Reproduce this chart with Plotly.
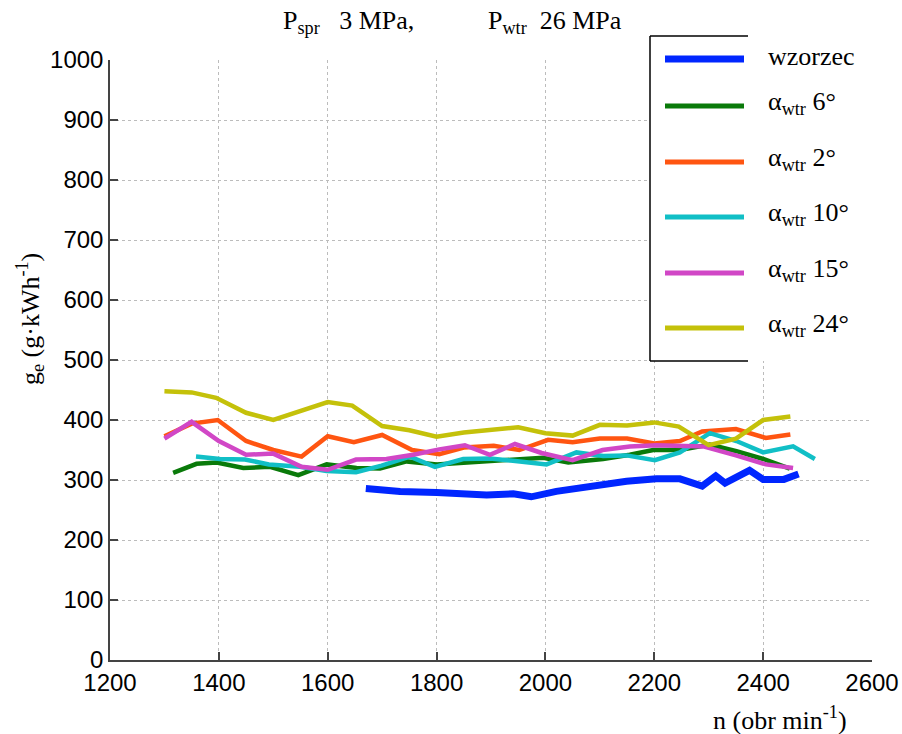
import plotly.graph_objects as go

# ---------------- data ----------------
series_names = ["wzorzec", "α<sub>wtr</sub> 6°", "α<sub>wtr</sub> 2°",
                "α<sub>wtr</sub> 10°", "α<sub>wtr</sub> 15°", "α<sub>wtr</sub> 24°"]
series_colors = ["#0026FF", "#0A7A0A", "#FF5511", "#11BFC6", "#D147C6", "#C4C10A"]

wzorzec_x = [1670, 1733, 1800, 1843, 1892, 1941, 1974, 2020, 2057, 2100, 2149, 2204,
             2247, 2288, 2313, 2330, 2375, 2400, 2438, 2465]
wzorzec_y = [286, 281, 279, 276, 275, 277, 272, 281, 286, 289, 298, 302,
             302, 290, 307, 295, 316, 301, 301, 310]

a6_x = [1316, 1359, 1396, 1445, 1494, 1546, 1598, 1653, 1696, 1745, 1800, 1849,
        1904, 1953, 1996, 2042, 2106, 2155, 2198, 2247, 2302, 2351, 2400, 2449]
a6_y = [312, 327, 329, 320, 322, 308, 326, 320, 319, 331, 326, 329,
        333, 335, 337, 329, 335, 342, 350, 350, 359, 348, 335, 319]

a2_x = [1300, 1350, 1398, 1450, 1500, 1552, 1600, 1648, 1700, 1755, 1805, 1850,
        1905, 1952, 2005, 2050, 2100, 2150, 2200, 2247, 2288, 2350, 2405, 2450]
a2_y = [373, 394, 400, 365, 350, 339, 373, 363, 375, 350, 343, 354,
        357, 350, 367, 363, 369, 369, 361, 365, 381, 385, 370, 376]

a10_x = [1358, 1402, 1448, 1492, 1549, 1598, 1652, 1699, 1751, 1797, 1849, 1898,
         1953, 2002, 2057, 2106, 2149, 2201, 2247, 2302, 2351, 2400, 2455, 2495]
a10_y = [339, 335, 334, 326, 322, 315, 313, 324, 339, 322, 335, 336,
         331, 326, 346, 340, 341, 333, 346, 378, 365, 346, 356, 335]

a15_x = [1300, 1350, 1400, 1450, 1500, 1552, 1600, 1652, 1708, 1757, 1805, 1852,
         1898, 1944, 1993, 2050, 2105, 2155, 2204, 2290, 2350, 2405, 2455]
a15_y = [369, 397, 365, 342, 344, 322, 317, 334, 335, 342, 351, 358,
         342, 360, 345, 333, 350, 356, 358, 356, 341, 326, 320]

a24_x = [1300, 1350, 1395, 1450, 1500, 1550, 1600, 1645, 1700, 1750, 1800, 1850,
         1900, 1950, 2000, 2050, 2100, 2150, 2200, 2245, 2300, 2350, 2400, 2450]
a24_y = [448, 446, 437, 412, 400, 415, 430, 424, 390, 383, 372, 379,
         383, 388, 378, 374, 392, 391, 396, 389, 358, 369, 400, 406]

x_ticks = [1200, 1400, 1600, 1800, 2000, 2200, 2400, 2600]
y_ticks = [0, 100, 200, 300, 400, 500, 600, 700, 800, 900, 1000]

title_left = "P<sub>spr</sub>&nbsp;&nbsp;&nbsp;3 MPa,"
title_right = "P<sub>wtr</sub>&nbsp;&nbsp;26 MPa"
x_title = "n (obr min<sup>-1</sup>)"
y_title = "g<sub>e</sub> (g·kWh<sup>-1</sup>)"

# ---------------- layout geometry ----------------
W, H = 902, 734
L, R, T, B = 110, 30, 60, 74
pw, ph = W - L - R, H - T - B


def xp(px):
    return (px - L) / pw


def yp(py):
    return (H - B - py) / ph


all_x = [wzorzec_x, a6_x, a2_x, a10_x, a15_x, a24_x]
all_y = [wzorzec_y, a6_y, a2_y, a10_y, a15_y, a24_y]
widths = [7, 4.5, 4.5, 4.5, 4.5, 4.5]

fig = go.Figure()
for xs, ys, name, col, w in zip(all_x, all_y, series_names, series_colors, widths):
    fig.add_trace(go.Scatter(x=xs, y=ys, mode="lines", name=name,
                             line=dict(color=col, width=w), showlegend=False))

axis_common = dict(showline=True, linecolor="#444444", linewidth=1.5,
                   ticks="inside", ticklen=8, tickwidth=1.5, tickcolor="#444444",
                   showgrid=True, gridcolor="#bcbcbc", griddash="dot", gridwidth=1,
                   zeroline=False, mirror=False,
                   tickfont=dict(family="Liberation Sans, Arial", size=24, color="black"))

fig.update_xaxes(range=[1200, 2600], tickvals=x_ticks, **axis_common)
fig.update_yaxes(range=[0, 1000], tickvals=y_ticks, **axis_common)

serif = "Liberation Serif, Times New Roman, serif"
shapes = []
# legend background (white) and partial border
shapes.append(dict(type="rect", xref="paper", yref="paper", layer="above",
                   x0=xp(650), x1=xp(905), y0=yp(361), y1=yp(36),
                   fillcolor="white", line=dict(width=0)))
shapes.append(dict(type="line", xref="paper", yref="paper", layer="above",
                   x0=xp(650), x1=xp(650), y0=yp(361), y1=yp(36),
                   line=dict(color="black", width=1.5)))
shapes.append(dict(type="line", xref="paper", yref="paper", layer="above",
                   x0=xp(650), x1=xp(748), y0=yp(36), y1=yp(36),
                   line=dict(color="black", width=1.5)))
shapes.append(dict(type="line", xref="paper", yref="paper", layer="above",
                   x0=xp(650), x1=xp(748), y0=yp(361), y1=yp(361),
                   line=dict(color="black", width=1.5)))

legend_rows = [59, 106, 162, 217, 273, 328]
legend_widths = [7, 5, 5, 5, 5, 5]
annotations = []
for row, name, col, lw in zip(legend_rows, series_names, series_colors, legend_widths):
    shapes.append(dict(type="line", xref="paper", yref="paper", layer="above",
                       x0=xp(665), x1=xp(744), y0=yp(row), y1=yp(row),
                       line=dict(color=col, width=lw)))
    annotations.append(dict(xref="paper", yref="paper", x=xp(766), y=yp(row - 3),
                            xanchor="left", yanchor="middle", showarrow=False,
                            text=name, font=dict(family=serif, size=26, color="black")))

annotations.append(dict(xref="paper", yref="paper", x=xp(281), y=yp(22),
                        xanchor="left", yanchor="middle", showarrow=False,
                        text=title_left, font=dict(family=serif, size=26, color="black")))
annotations.append(dict(xref="paper", yref="paper", x=xp(486), y=yp(22),
                        xanchor="left", yanchor="middle", showarrow=False,
                        text=title_right, font=dict(family=serif, size=26, color="black")))
annotations.append(dict(xref="paper", yref="paper", x=xp(780), y=yp(718),
                        xanchor="center", yanchor="middle", showarrow=False,
                        text=x_title, font=dict(family=serif, size=26, color="black")))
annotations.append(dict(xref="paper", yref="paper", x=xp(30), y=yp(319),
                        xanchor="center", yanchor="middle", showarrow=False, textangle=-90,
                        text=y_title, font=dict(family=serif, size=26, color="black")))

fig.update_layout(width=W, height=H, margin=dict(l=L, r=R, t=T, b=B, autoexpand=False),
                  paper_bgcolor="white", plot_bgcolor="white",
                  shapes=shapes, annotations=annotations, showlegend=False)

fig.write_html("out.html", config={"displayModeBar": False},
               post_script="document.body.style.margin='0';")
